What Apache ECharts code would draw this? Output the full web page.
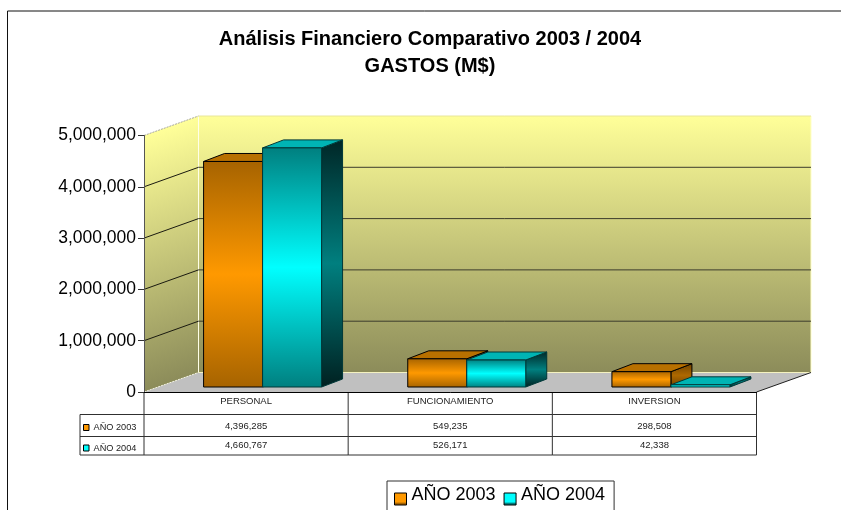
<!DOCTYPE html>
<html><head><meta charset="utf-8">
<style>html,body{margin:0;padding:0;background:#fff}#c{width:841px;height:510px}</style>
<script src="https://cdn.jsdelivr.net/npm/echarts@6/dist/echarts.min.js"></script>
</head><body><div id="c"></div>
<script>
const titleLines = ['Análisis Financiero Comparativo 2003 / 2004', 'GASTOS (M$)'];
const categories = ['PERSONAL', 'FUNCIONAMIENTO', 'INVERSION'];
const seriesNames = ['AÑO 2003', 'AÑO 2004'];
const values2003 = [4396285, 549235, 298508];
const values2004 = [4660767, 526171, 42338];
const gridValues = [1000000, 2000000, 3000000, 4000000];

const FONT = '"Liberation Sans", Arial, sans-serif';
const fmt = v => v.toLocaleString('en-US');
const G = echarts.graphic;
const DX = 54.5, DY = 19.5;          // wall depth
const BAR_OFF = [16.5, 5], BAR_D = [21, 8], BAR_RATIO = 59 / 204.2;
const vgrad = (a, b, c) => new G.LinearGradient(0, 0, 0, 1, [
  {offset: 0, color: a}, {offset: 0.5, color: b}, {offset: 1, color: c}]);
const SKIN = [
  {front: vgrad('#A66300', '#FF9900', '#A66300'), side: vgrad('#6E4200', '#AD6800', '#6E4200'), top: '#B87000', stroke: '#000000'},
  {front: vgrad('#007F7F', '#00FFFF', '#007F7F'), side: vgrad('#002626', '#007F7F', '#002020'), top: '#00B4B4', stroke: '#003838'}
];
const poly = (points, fill, stroke, lw) => ({
  type: 'polygon', shape: {points},
  style: {fill: fill, stroke: stroke || 'none', lineWidth: lw || 1}, silent: true});
const line = (x1, y1, x2, y2, stroke, lw, dash) => ({
  type: 'line', shape: {x1, y1, x2, y2},
  style: {stroke, lineWidth: lw || 1, lineDash: dash}, silent: true});
const text = (t, x, y, align, size, fill) => ({
  type: 'text', silent: true,
  style: {text: t, x, y, align: align || 'center', verticalAlign: 'middle',
    fill: fill || '#222', font: (size || 9.5) + 'px ' + FONT}});

function renderWalls(p, api) {
  const c0 = api.coord([0, 0]), w = api.size([1, 0])[0];
  const L = c0[0] - w / 2, R = L + w * categories.length, B = c0[1], T = api.coord([0, 5000000])[1];
  const H = B - T, un = Math.hypot(DX, DY), ux = DY / un, uy = DX / un, len = H * uy;
  const wallGrad = new G.LinearGradient(L + DX, T - DY, L + DX + ux * len, T - DY + uy * len, [
    {offset: 0, color: '#FFFF99'}, {offset: 1, color: '#8C8C5A'}], true);
  const backGrad = new G.LinearGradient(0, 0, 0, 1, [
    {offset: 0, color: '#FFFF99'}, {offset: 1, color: '#8C8C5A'}]);
  return {type: 'group', children: [
    poly([[L, B], [L + DX, B - DY], [R + DX, B - DY], [R, B]], '#C0C0C0'),
    poly([[L, T], [L + DX, T - DY], [L + DX, B - DY], [L, B]], wallGrad),
    poly([[L + DX, T - DY], [R + DX, T - DY], [R + DX, B - DY], [L + DX, B - DY]], backGrad),
    line(L + DX, T - DY, L + DX, B - DY, '#FFFFE8', 1),
    line(L + DX, B - DY, R + DX, B - DY, '#F4F2C0', 1),
    line(R + DX, T - DY, R + DX, B - DY, '#FFFFC8', 1),
    line(L + DX, T - DY, R + DX, T - DY, '#E8E69A', 1),
    line(L, T, L + DX, T - DY, '#A8A8A0', 1, [2, 1]),
    line(L, B, L + DX, B - DY, '#F2F2E0', 1, [2, 1]),
    line(R, B, R + DX, B - DY, '#202020', 1)
  ]};
}
function renderGrid(p, api) {
  const c0 = api.coord([0, 0]), w = api.size([1, 0])[0];
  const L = c0[0] - w / 2, R = L + w * categories.length, y = api.coord([0, api.value(1)])[1];
  return {type: 'group', children: [
    line(L, y, L + DX, y - DY, '#1A1A10', 1),
    line(L + DX, y - DY, R + DX, y - DY, '#3C3C2C', 1)
  ]};
}
function renderBar(k) {
  return function (p, api) {
    const i = api.value(0), c = api.coord([i, api.value(1)]), z = api.coord([i, 0]);
    const bw = api.size([1, 0])[0] * BAR_RATIO;
    const x0 = c[0] + BAR_OFF[0] - bw + k * bw, x1 = x0 + bw;
    const yB = z[1] - BAR_OFF[1], yT = c[1] - BAR_OFF[1];
    const s = SKIN[k], dx = BAR_D[0], dy = BAR_D[1];
    return {type: 'group', children: [
      poly([[x1, yT], [x1 + dx, yT - dy], [x1 + dx, yB - dy], [x1, yB]], s.side, s.stroke),
      poly([[x0, yT], [x0 + dx, yT - dy], [x1 + dx, yT - dy], [x1, yT]], s.top, s.stroke),
      poly([[x0, yT], [x1, yT], [x1, yB], [x0, yB]], s.front, s.stroke)
    ]};
  };
}
const ROW = [392, 414.5, 436.5, 455];
const TAB_LEFT = 80;
function renderTable(p, api) {
  const i = api.value(0), c = api.coord([i, 0]), w = api.size([1, 0])[0];
  const L = c[0] - w / 2, R = L + w, C = '#303030';
  const kids = [
    line(R, ROW[0], R, ROW[3], C),
    line(L, ROW[1], R, ROW[1], C), line(L, ROW[2], R, ROW[2], C), line(L, ROW[3], R, ROW[3], C),
    text(fmt(api.value(1)), c[0], 426), text(fmt(api.value(2)), c[0], 445.5)
  ];
  if (i === 0) {
    kids.push(
      line(L, ROW[0], L, ROW[3], C), line(TAB_LEFT, ROW[1], TAB_LEFT, ROW[3], C),
      line(TAB_LEFT, ROW[1], L, ROW[1], C), line(TAB_LEFT, ROW[2], L, ROW[2], C), line(TAB_LEFT, ROW[3], L, ROW[3], C));
    seriesNames.forEach((n, k) => {
      const y = k ? 448 : 427.5;
      kids.push(
        {type: 'rect', silent: true, shape: {x: 83.5, y: y - 3, width: 5.5, height: 6},
          style: {fill: k ? '#00FFFF' : '#FF9900', stroke: '#000', lineWidth: 1}},
        text(n, 93.5, y, 'left', 9.2));
    });
  }
  return {type: 'group', children: kids};
}
const swatch = k => new G.LinearGradient(0, 0, 0, 1, k
  ? [{offset: 0, color: '#00FFFF'}, {offset: .85, color: '#00FFFF'}, {offset: .86, color: '#007F7F'}, {offset: 1, color: '#007F7F'}]
  : [{offset: 0, color: '#FF9900'}, {offset: .85, color: '#FF9900'}, {offset: .86, color: '#A66300'}, {offset: 1, color: '#A66300'}]);
const SWATCH_ICON = 'path://M0,0L0,0M0,7.5L12,7.5L12,19.5L0,19.5Z';

const chart = echarts.init(document.getElementById('c'), null, {renderer: 'canvas'});
chart.setOption({
  animation: false,
  backgroundColor: '#fff',
  tooltip: {show: false},
  title: {
    text: titleLines.join('\n'), left: 425, top: 21, textAlign: 'center',
    textStyle: {fontFamily: FONT, fontWeight: 'bold', fontSize: 20, lineHeight: 27, color: '#000'}
  },
  legend: {
    left: 387, top: 481, orient: 'horizontal', itemWidth: 12, itemHeight: 19.5, itemGap: 8,
    padding: [4, 9, 20, 7], borderColor: '#303030', borderWidth: 1, backgroundColor: '#fff',
    selectedMode: false,
    textStyle: {fontFamily: FONT, fontSize: 18, color: '#000'},
    data: seriesNames.map((n, k) => ({name: n, icon: SWATCH_ICON,
      itemStyle: {color: swatch(k), borderColor: '#000', borderWidth: 1}}))
  },
  graphic: [{type: 'rect', silent: true, z: -1, shape: {x: 7.5, y: 11, width: 900, height: 600},
    style: {fill: 'none', stroke: '#111', lineWidth: 1}}],
  grid: {left: 144, right: 84.5, top: 135.5, bottom: 118},
  xAxis: {
    type: 'category', data: categories, z: 5,
    axisLine: {show: true, lineStyle: {color: '#000', width: 1}}, axisTick: {show: false},
    axisLabel: {fontFamily: FONT, fontSize: 9.5, color: '#222', margin: 4},
    splitLine: {show: false}
  },
  yAxis: {
    type: 'value', min: 0, max: 5000000, interval: 1000000, z: 5,
    axisLine: {show: true, lineStyle: {color: '#555', width: 1}},
    axisTick: {show: true, length: 6, lineStyle: {color: '#333'}},
    axisLabel: {fontFamily: FONT, fontSize: 17.5, color: '#000', margin: 8, formatter: v => fmt(v)},
    splitLine: {show: false}
  },
  series: [
    {type: 'custom', name: 'walls', z: 1, silent: true, renderItem: renderWalls, data: [[0, 0]]},
    {type: 'custom', name: 'grid', z: 2, silent: true, renderItem: renderGrid, data: gridValues.map(v => [0, v])},
    {type: 'custom', name: seriesNames[0], z: 3, silent: true, renderItem: renderBar(0),
      itemStyle: {color: '#FF9900'}, data: values2003.map((v, i) => [i, v])},
    {type: 'custom', name: seriesNames[1], z: 4, silent: true, renderItem: renderBar(1),
      itemStyle: {color: '#00FFFF'}, data: values2004.map((v, i) => [i, v])},
    {type: 'custom', name: 'table', z: 5, silent: true, renderItem: renderTable,
      data: categories.map((c, i) => [i, values2003[i], values2004[i]])}
  ]
});
</script></body></html>
